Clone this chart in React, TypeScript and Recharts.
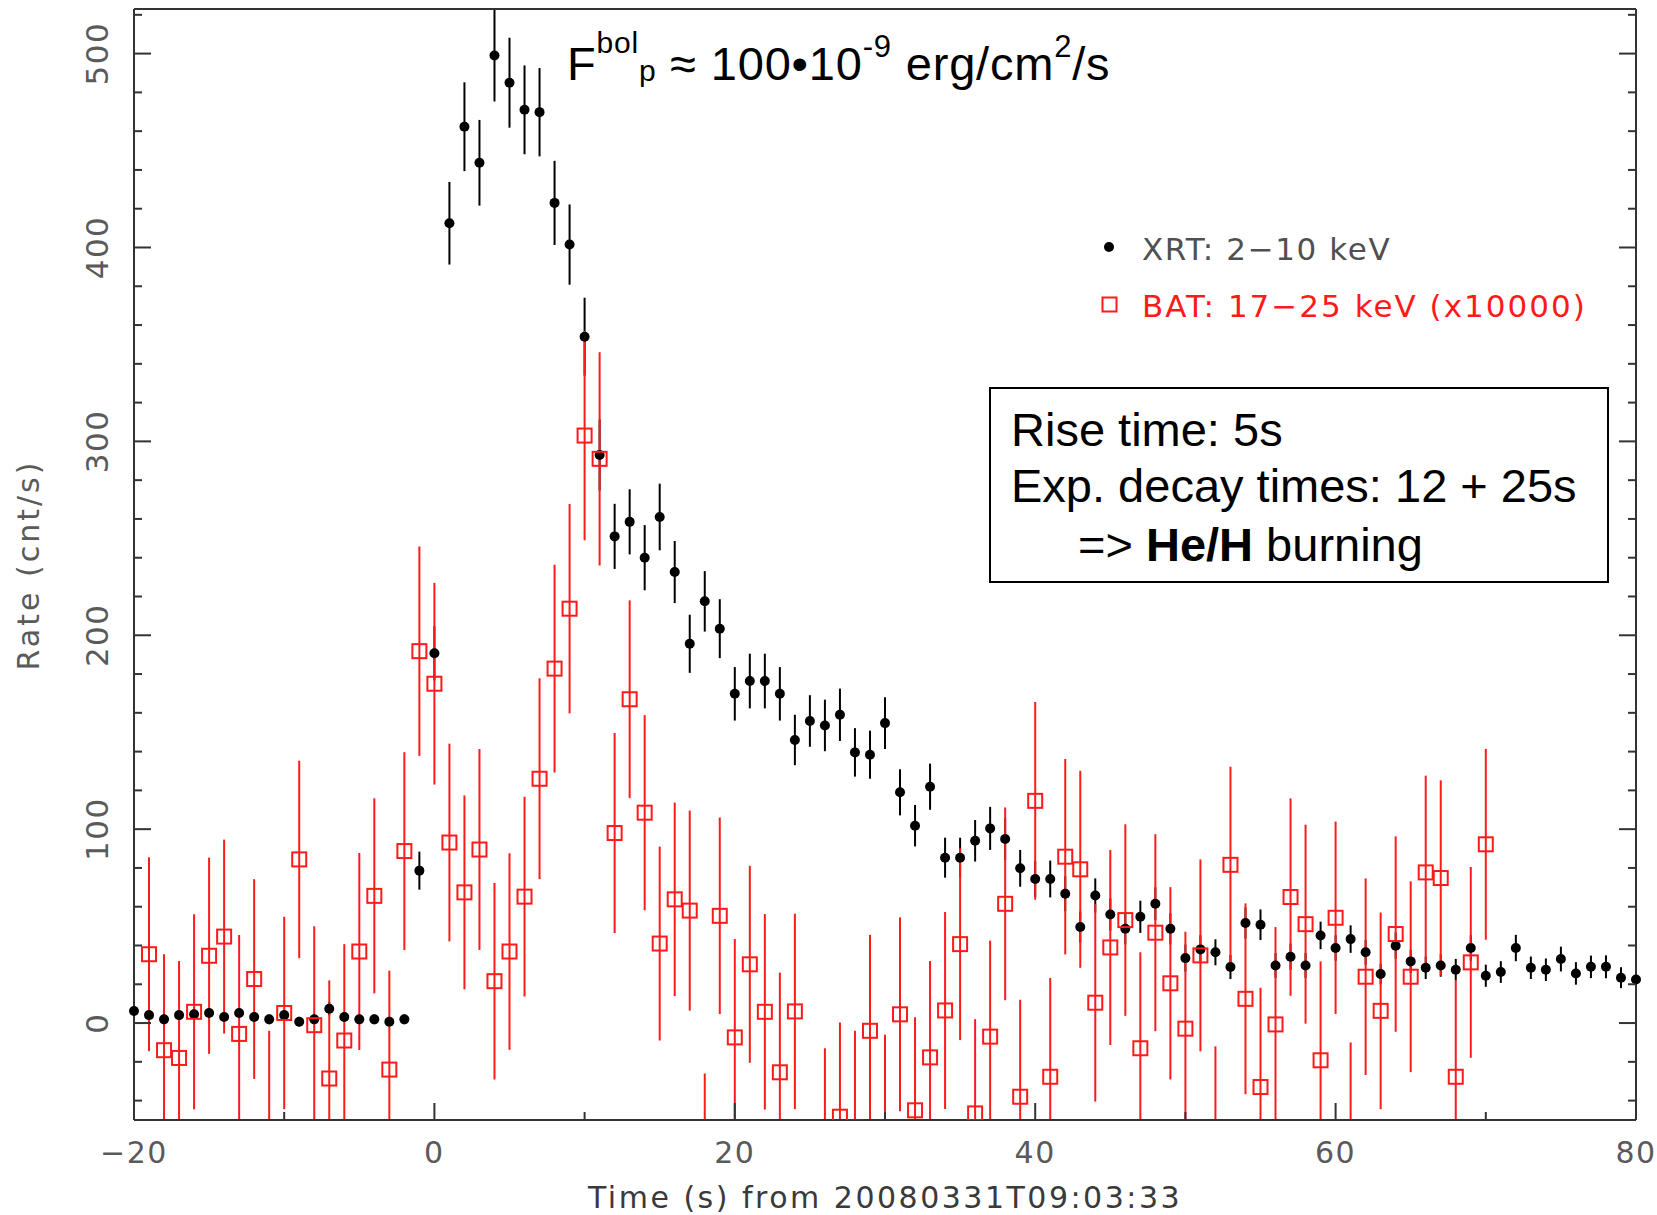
import React from "react"
import { ScatterChart, Scatter, XAxis, YAxis, ErrorBar } from "recharts"

// XRT 2-10 keV, 1 s bins
const xrtTime = [
  -20, -19, -18, -17, -16, -15, -14, -13, -12, -11, -10, -9, -8, -7, -6, -5, -4, -3, -2, -1,
  0, 1, 2, 3, 4, 5, 6, 7, 8, 9, 10, 11, 12, 13, 14, 15, 16, 17, 18, 19,
  20, 21, 22, 23, 24, 25, 26, 27, 28, 29, 30, 31, 32, 33, 34, 35, 36, 37, 38, 39,
  40, 41, 42, 43, 44, 45, 46, 47, 48, 49, 50, 51, 52, 53, 54, 55, 56, 57, 58, 59,
  60, 61, 62, 63, 64, 65, 66, 67, 68, 69, 70, 71, 72, 73, 74, 75, 76, 77, 78, 79, 80,
]
const xrtRate = [
  6.2, 4.1, 1.9, 4.1, 4.5, 5.2, 3.1, 5.2, 3.1, 1.9, 4.1, 0.7, 1.9, 7.4, 3.1, 1.9, 1.9, 0.7, 1.9, 78.6,
  190.7, 412.5, 462.3, 443.7, 499, 485, 471, 469.8, 423, 401.5, 354, 293, 251, 258.5, 240, 261, 232.6, 195.6, 217.5, 203.4,
  169.8, 176.4, 176.4, 169.8, 146, 155.8, 153.5, 159, 139.6, 138.4, 154.7, 119, 101.8, 121.9, 85.3, 85.3, 94, 100.4, 94.9, 79.8,
  74.3, 74.3, 66.7, 49.5, 65.8, 56, 48.6, 54.8, 61.5, 48.6, 33.5, 38, 36.5, 28.9, 51.6, 50.7, 29.7, 34.2, 29.7, 45.2,
  38.7, 43.3, 36.5, 25.3, 39.9, 31.8, 28.5, 29.7, 27.5, 38.7, 24.4, 26.3, 38.7, 28.5, 27.5, 33, 25.6, 29, 29, 23.4, 22.5,
]
const xrtErr = [
  2.5, 2.5, 2.5, 2.5, 2.5, 2.5, 2.5, 2.5, 2.5, 2.5, 2.5, 2.5, 2.5, 3.5, 2.5, 2.5, 2.5, 2.5, 2.5, 9.8,
  14, 21.3, 22.9, 22.1, 23.7, 23.2, 22.9, 22.8, 21.7, 20.7, 20.1, 18.3, 16.8, 16.8, 16.8, 17.2, 16, 15, 15.6, 15.2,
  13.8, 14.1, 14.1, 13.8, 13, 13.3, 13.3, 13.5, 12.5, 12.4, 13.3, 11.9, 10.7, 11.9, 10.3, 10.3, 10.7, 11.1, 10.8, 9.5,
  9.3, 9.5, 9, 8, 8.8, 8.3, 8, 8.3, 8.5, 8, 7, 7.3, 6.7, 6.2, 8, 7.9, 6.4, 6.8, 6.4, 7.1,
  6.6, 7.1, 6.4, 5.3, 6.8, 6, 5.8, 5.8, 5.6, 6.6, 5.7, 5.6, 6.8, 5.8, 5.8, 6.4, 5.8, 5.8, 5.9, 5.4, 5.4,
]

// BAT 17-25 keV (x10000)
const batTime = [
  -20, -19, -18, -17, -16, -15, -14, -13, -12, -11, -10, -9, -8, -7, -6, -5, -4, -3, -2, -1,
  0, 1, 2, 3, 4, 5, 6, 7, 8, 9, 10, 11, 12, 13, 14, 15, 16, 17, 18, 19,
  20, 21, 22, 23, 24, 25, 26, 27, 28, 29, 30, 31, 32, 33, 34, 35, 36, 37, 38, 39,
  40, 41, 42, 43, 44, 45, 46, 47, 48, 49, 50, 51, 52, 53, 54, 55, 56, 57, 58, 59,
  60, 61, 62, 63, 64, 65, 66, 67, 68, 69, 70,
]
const batRate: (number | null)[] = [
  -57, 35.5, -14, -18, 5.8, 34.7, 44.6, -5.6, 22.7, -55, 5.2, 84.4, -1.1, -28.6, -9, 36.9, 65.6, -24, 88.7, 191.8,
  175, 93.1, 67.4, 89.5, 21.6, 36.9, 65.2, 126, 182.8, 213.7, 303, 291, 98, 167, 108.5, 41, 63.8, 58, -76, 55.3,
  -7.4, 30.3, 5.8, -25.4, 6, null, -63, -48.3, -54, -4, -56, 4.5, -45, -17.7, 6.5, 40.7, -46.6, -7, 61.5, -38,
  114.6, -27.7, 85.8, 79.3, 10.5, 39, 53.1, -13, 46.6, 20.5, -2.9, 34.9, -62, 81.6, 12.5, -33, -0.7, 65, 51, -19.2,
  54.3, -60, 23.9, 6.3, 45.9, 23.9, 77.7, 74.8, -27.7, 31.3, 92.2,
]
const batErr = [
  51, 50, 49.5, 50, 50.3, 50.6, 50, 51, 51.5, 51, 49.6, 50.9, 51, 50.6, 49.7, 50.8, 50.3, 51, 51, 54,
  52, 51, 50, 51.8, 50.7, 50.7, 51.5, 51.8, 53.6, 54, 54, 55, 51.6, 51, 50.3, 50, 49.9, 51.6, 50, 50.7,
  50.7, 50.8, 50.4, 51.4, 50.4, 50, 50, 48.6, 50, 49.5, 50, 50, 48, 49.7, 50.8, 49.5, 48.6, 49.5, 49.7, 50,
  51, 51, 50.4, 50.8, 51, 50.3, 49.4, 49.5, 50.8, 49.6, 50, 49.5, 50, 50.6, 49.2, 51.2, 50.2, 50.9, 51.3, 51,
  49.6, 50, 50.7, 50.7, 50.4, 49.2, 49.9, 50.4, 50, 49.2, 49.2,
]

const xTicks = [-20, -10, 0, 10, 20, 30, 40, 50, 60, 70, 80]
const yTicks = [-40, -20, 0, 20, 40, 60, 80, 100, 120, 140, 160, 180, 200, 220, 240, 260, 280, 300, 320, 340, 360, 380, 400, 420, 440, 460, 480, 500, 520]

const xrtData = xrtTime.map((t, i) => ({ t, rate: xrtRate[i], err: xrtErr[i] }))
const batData = batTime
  .map((t, i) => ({ t, rate: batRate[i], err: batErr[i] }))
  .filter((d) => d.rate !== null)

const AXIS = "#333"
const LABEL = "#5a5a5a"
const RED = "#ff1a1a"
const TICKFONT = "'DejaVu Sans', sans-serif"
const ARIAL = "'Liberation Sans', Arial, sans-serif"

const fmt = (v: number) => (v < 0 ? `\u2212${Math.abs(v)}` : `${v}`)

const BottomTick = ({ x, y, payload }: any) => {
  const major = payload.value % 20 === 0
  return (
    <g>
      <line x1={x} x2={x} y1={y} y2={y - (major ? 17 : 8)} stroke={AXIS} strokeWidth={2} />
      {major && (
        <text x={x} y={y + 43} textAnchor="middle" fontSize={30} fontFamily={TICKFONT} fill={LABEL} letterSpacing={1.5}>
          {fmt(payload.value)}
        </text>
      )}
    </g>
  )
}

const TopTick = ({ x, y, payload }: any) => {
  const major = payload.value % 20 === 0
  return <line x1={x} x2={x} y1={y} y2={y + (major ? 17 : 8)} stroke={AXIS} strokeWidth={2} />
}

const LeftTick = ({ x, y, payload }: any) => {
  const major = payload.value % 100 === 0
  const lx = x - 26
  return (
    <g>
      <line x1={x} x2={x + (major ? 17 : 8)} y1={y} y2={y} stroke={AXIS} strokeWidth={2} />
      {major && (
        <text x={lx} y={y} transform={`rotate(-90, ${lx}, ${y})`} textAnchor="middle" fontSize={31} fontFamily={TICKFONT} fill={LABEL} letterSpacing={1.5}>
          {payload.value}
        </text>
      )}
    </g>
  )
}

const RightTick = ({ x, y, payload }: any) => {
  const major = payload.value % 100 === 0
  return <line x1={x} x2={x - (major ? 17 : 8)} y1={y} y2={y} stroke={AXIS} strokeWidth={2} />
}

const XrtDot = ({ cx, cy }: any) => <circle cx={cx} cy={cy} r={5} fill="#000" />
const BatBox = ({ cx, cy }: any) => (
  <rect x={cx - 7} y={cy - 7} width={14} height={14} fill="none" stroke={RED} strokeWidth={2} />
)

export default function App() {
  return (
    <div style={{ position: "absolute", left: 0, top: 0, width: 1657, height: 1215, background: "#fff" }}>
      {/* error bars are not clipped by recharts, keep them inside the frame */}
      <style>{`.recharts-errorBars { clip-path: url(#plotFrameClip); }`}</style>
      <svg width={0} height={0} style={{ position: "absolute" }}>
        <defs>
          <clipPath id="plotFrameClip" clipPathUnits="userSpaceOnUse">
            <rect x={134} y={9} width={1502} height={1111} />
          </clipPath>
        </defs>
      </svg>

      <ScatterChart width={1657} height={1215} margin={{ top: 8, right: 20, left: 0, bottom: 0 }}>
        <XAxis
          type="number"
          dataKey="t"
          domain={[-20, 80]}
          ticks={xTicks}
          interval={0}
          height={95}
          tickSize={0}
          tickMargin={0}
          tickLine={false}
          tick={<BottomTick />}
          stroke={AXIS}
          strokeWidth={2}
        />
        <XAxis
          xAxisId="top"
          orientation="top"
          type="number"
          dataKey="t"
          domain={[-20, 80]}
          ticks={xTicks}
          interval={0}
          height={1}
          tickSize={0}
          tickMargin={0}
          tickLine={false}
          tick={<TopTick />}
          stroke={AXIS}
          strokeWidth={2}
        />
        <YAxis
          type="number"
          dataKey="rate"
          domain={[-50, 523]}
          allowDataOverflow
          ticks={yTicks}
          interval={0}
          width={134}
          tickSize={0}
          tickMargin={0}
          tickLine={false}
          tick={<LeftTick />}
          stroke={AXIS}
          strokeWidth={2}
        />
        <YAxis
          yAxisId="right"
          orientation="right"
          type="number"
          dataKey="rate"
          domain={[-50, 523]}
          allowDataOverflow
          ticks={yTicks}
          interval={0}
          width={1}
          tickSize={0}
          tickMargin={0}
          tickLine={false}
          tick={<RightTick />}
          stroke={AXIS}
          strokeWidth={2}
        />
        <Scatter name="XRT: 2-10 keV" data={xrtData} shape={<XrtDot />} isAnimationActive={false}>
          <ErrorBar dataKey="err" direction="y" width={0} stroke="#000" strokeWidth={2} isAnimationActive={false} />
        </Scatter>
        <Scatter name="BAT: 17-25 keV (x10000)" data={batData} shape={<BatBox />} isAnimationActive={false}>
          <ErrorBar dataKey="err" direction="y" width={0} stroke={RED} strokeWidth={2} isAnimationActive={false} />
        </Scatter>
      </ScatterChart>

      <svg width={1657} height={1215} style={{ position: "absolute", left: 0, top: 0, pointerEvents: "none" }}>
        {/* axis titles */}
        <text x={885} y={1208} textAnchor="middle" fontSize={30} fontFamily={TICKFONT} fill="#3a3a3a" letterSpacing={2.5}>
          Time (s) from 20080331T09:03:33
        </text>
        <text x={39} y={565} transform="rotate(-90, 39, 565)" textAnchor="middle" fontSize={30} fontFamily={TICKFONT} fill={LABEL} letterSpacing={3}>
          Rate (cnt/s)
        </text>

        {/* peak flux note */}
        <text x={567} y={80} fontSize={47} fontFamily={ARIAL} fill="#000" letterSpacing={0.8}>
          F
          <tspan fontSize={30} dy={-27}>bol</tspan>
          <tspan fontSize={30} dy={28}>p</tspan>
          <tspan dy={-1}>{" ≈ 100•10"}</tspan>
          <tspan fontSize={31} dy={-23.5}>-9</tspan>
          <tspan dy={23.5}>{" erg/cm"}</tspan>
          <tspan fontSize={31} dy={-23.5}>2</tspan>
          <tspan dy={23.5}>/s</tspan>
        </text>

        {/* legend */}
        <circle cx={1109} cy={247} r={5} fill="#000" />
        <text x={1142} y={259.5} fontSize={31} fontFamily={TICKFONT} fill="#505050" letterSpacing={1.6}>
          XRT: 2{"\u2212"}10 keV
        </text>
        <rect x={1102.5} y={297.5} width={14} height={14} fill="none" stroke={RED} strokeWidth={2} />
        <text x={1142} y={316.5} fontSize={31} fontFamily={TICKFONT} fill={RED} letterSpacing={2}>
          BAT: 17{"\u2212"}25 keV (x10000)
        </text>

        {/* fit summary box */}
        <rect x={990} y={388} width={618} height={194} fill="#fff" stroke="#000" strokeWidth={2} />
        <g fontFamily={ARIAL} fontSize={47} fill="#000">
          <text x={1011} y={446}>Rise time: 5s</text>
          <text x={1011} y={502}>Exp. decay times: 12 + 25s</text>
          <text x={1078} y={561}>
            {"=> "}
            <tspan fontWeight="bold">He/H</tspan>
            {" burning"}
          </text>
        </g>
      </svg>
    </div>
  )
}
